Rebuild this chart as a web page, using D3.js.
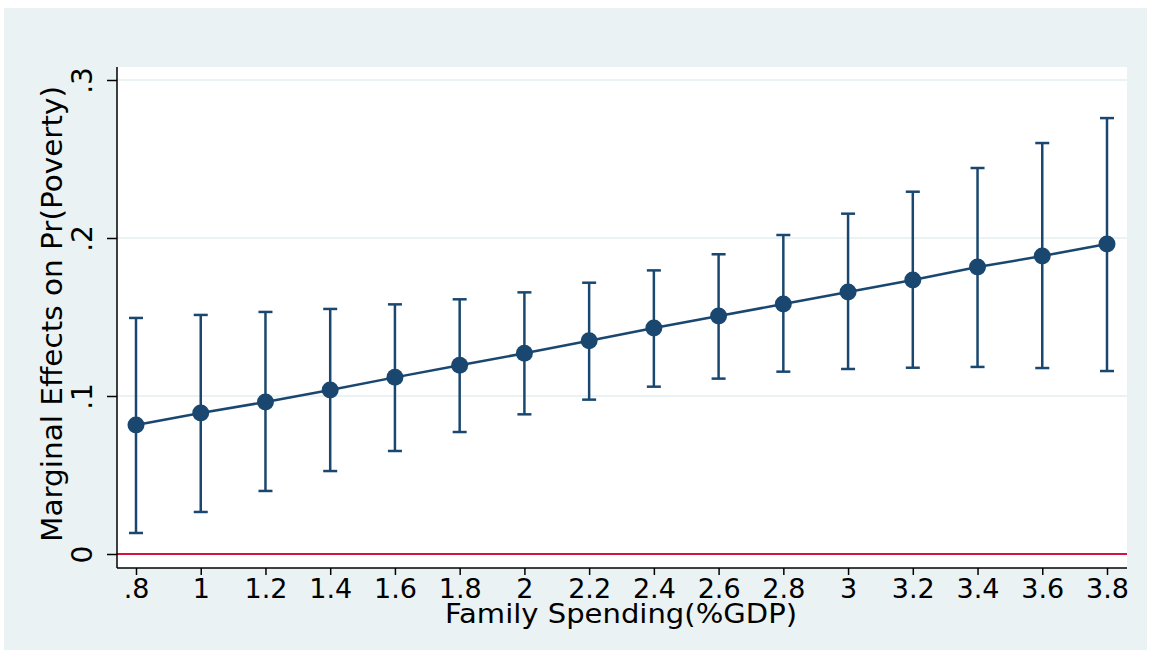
<!DOCTYPE html>
<html>
<head>
<meta charset="utf-8">
<script src="https://cdnjs.cloudflare.com/ajax/libs/d3/7.8.5/d3.min.js"></script>
<style>
  body { margin: 0; background: #fff; }
  svg text { font-family: "DejaVu Sans", sans-serif; fill: #000; }
</style>
</head>
<body>
<svg id="chart" width="1151" height="652"></svg>
<script>
'use strict';

// data
var spending = [0.8, 1.0, 1.2, 1.4, 1.6, 1.8, 2.0, 2.2, 2.4, 2.6, 2.8, 3.0, 3.2, 3.4, 3.6, 3.8];
var margin = [0.0816, 0.0892, 0.0962, 0.1038, 0.1118, 0.1194, 0.1270, 0.1350,
              0.1430, 0.1506, 0.1582, 0.1658, 0.1734, 0.1816, 0.1886, 0.1962];
var upper = [0.1494, 0.1513, 0.1532, 0.1551, 0.1580, 0.1612, 0.1656, 0.1717,
             0.1795, 0.1897, 0.2019, 0.2154, 0.2293, 0.2443, 0.2601, 0.2759];
var lower = [0.0133, 0.0266, 0.0399, 0.0525, 0.0652, 0.0772, 0.0884, 0.0977,
             0.1059, 0.1110, 0.1154, 0.1171, 0.1179, 0.1184, 0.1177, 0.1158];
var xTicks = [0.8, 1, 1.2, 1.4, 1.6, 1.8, 2, 2.2, 2.4, 2.6, 2.8, 3, 3.2, 3.4, 3.6, 3.8];
var yTicks = [0, 0.1, 0.2, 0.3];
var xTitle = 'Family Spending(%GDP)';
var yTitle = 'Marginal Effects on Pr(Poverty)';

var navy = '#1a476f';
var bg = '#eaf2f3';

var rows = spending.map(function(s, i) {
  return { x: s, y: margin[i], lo: lower[i], hi: upper[i] };
});

// stata style label: .8 instead of 0.8
function stataFmt(v) {
  var s = d3.format('~g')(+v.toFixed(4));
  return s.replace(/^0\./, '.');
}

var svg = d3.select('#chart');

// plot region bounds
var pLeft = 117, pRight = 1127, pTop = 67, pBottom = 568;

var x = d3.scaleLinear().domain([0.8, 3.8]).range([136, 1107]);
var y = d3.scaleLinear().domain([0, 0.3]).range([554, 80]);

// outer graph region
svg.append('rect')
  .attr('x', 4).attr('y', 8).attr('width', 1143).attr('height', 642)
  .attr('fill', bg);

// plot region
svg.append('rect')
  .attr('x', pLeft).attr('y', pTop)
  .attr('width', pRight - pLeft).attr('height', pBottom - pTop)
  .attr('fill', '#fff');

// gridlines
svg.append('g')
  .selectAll('line')
  .data(yTicks.filter(function(d) { return d > 0; }))
  .join('line')
  .attr('x1', pLeft).attr('x2', pRight)
  .attr('y1', function(d) { return y(d); })
  .attr('y2', function(d) { return y(d); })
  .attr('stroke', bg)
  .attr('stroke-width', 2);

// zero reference line
svg.append('line')
  .attr('x1', pLeft).attr('x2', pRight)
  .attr('y1', y(0)).attr('y2', y(0))
  .attr('stroke', '#d31240')
  .attr('stroke-width', 2);

// y axis
var yAxis = d3.axisLeft(y)
  .tickValues(yTicks)
  .tickSize(10)
  .tickPadding(6)
  .tickFormat(stataFmt);

var gy = svg.append('g')
  .attr('transform', 'translate(' + pLeft + ',0)')
  .call(yAxis);
gy.select('.domain').attr('d', 'M0,' + pTop + 'V' + pBottom);
gy.selectAll('.domain, .tick line').attr('stroke', '#000').attr('stroke-width', 1.5);
gy.selectAll('.tick text')
  .attr('font-size', 28)
  .attr('text-anchor', 'middle')
  .attr('dy', 0)
  .attr('x', 0)
  .attr('transform', 'translate(-25,0) rotate(-90)');

// x axis
var xAxis = d3.axisBottom(x)
  .tickValues(xTicks)
  .tickSize(7)
  .tickPadding(2)
  .tickFormat(stataFmt);

var gx = svg.append('g')
  .attr('transform', 'translate(0,' + pBottom + ')')
  .call(xAxis);
gx.select('.domain').attr('d', 'M' + pLeft + ',0H' + pRight);
gx.selectAll('.domain, .tick line').attr('stroke', '#000').attr('stroke-width', 1.5);
gx.selectAll('.tick text')
  .attr('font-size', 27)
  .attr('dy', 0)
  .attr('y', 30);

// axis titles
svg.append('text')
  .attr('x', 621).attr('y', 623)
  .attr('text-anchor', 'middle')
  .attr('font-size', 26)
  .attr('textLength', 352)
  .attr('lengthAdjust', 'spacingAndGlyphs')
  .text(xTitle);

svg.append('text')
  .attr('transform', 'translate(62,314) rotate(-90)')
  .attr('text-anchor', 'middle')
  .attr('font-size', 29)
  .attr('textLength', 456)
  .attr('lengthAdjust', 'spacingAndGlyphs')
  .text(yTitle);

// confidence intervals
var ci = svg.append('g').attr('stroke', navy).attr('stroke-width', 2.5);
ci.selectAll('line.bar')
  .data(rows)
  .join('line')
  .attr('class', 'bar')
  .attr('x1', function(d) { return x(d.x); })
  .attr('x2', function(d) { return x(d.x); })
  .attr('y1', function(d) { return y(d.lo); })
  .attr('y2', function(d) { return y(d.hi); });

['lo', 'hi'].forEach(function(k) {
  ci.selectAll('line.cap-' + k)
    .data(rows)
    .join('line')
    .attr('class', 'cap-' + k)
    .attr('x1', function(d) { return x(d.x) - 7; })
    .attr('x2', function(d) { return x(d.x) + 7; })
    .attr('y1', function(d) { return y(d[k]); })
    .attr('y2', function(d) { return y(d[k]); });
});

// connected estimates
var line = d3.line()
  .x(function(d) { return x(d.x); })
  .y(function(d) { return y(d.y); });

svg.append('path')
  .datum(rows)
  .attr('d', line)
  .attr('fill', 'none')
  .attr('stroke', navy)
  .attr('stroke-width', 2.5);

svg.append('g')
  .selectAll('circle')
  .data(rows)
  .join('circle')
  .attr('cx', function(d) { return x(d.x); })
  .attr('cy', function(d) { return y(d.y); })
  .attr('r', 8.5)
  .attr('fill', navy);
</script>
</body>
</html>
